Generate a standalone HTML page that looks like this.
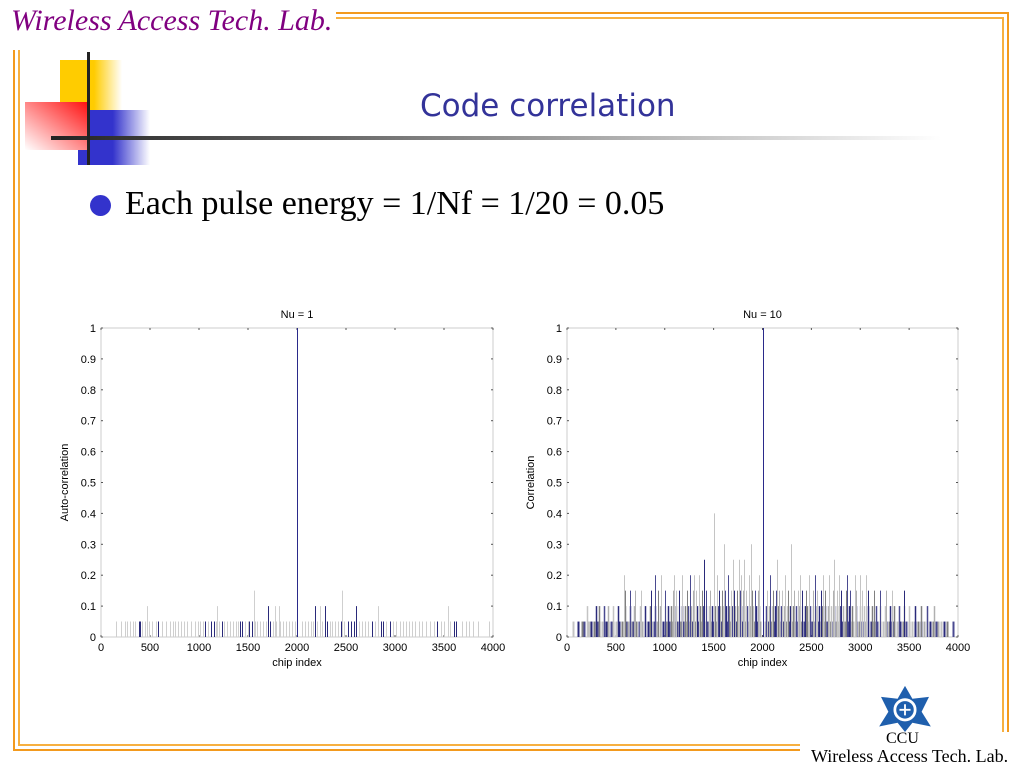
<!DOCTYPE html>
<html><head><meta charset="utf-8"><style>
body{margin:0;width:1024px;height:768px;background:#fff;position:relative;overflow:hidden;font-family:"Liberation Sans",sans-serif}
.a{position:absolute}
</style></head><body>
<div class="a" style="left:11px;top:4px;font:italic 30px 'Liberation Serif',serif;color:#800080;white-space:nowrap">Wireless Access Tech. Lab.</div>
<svg class="a" style="left:0;top:0" width="1024" height="768">
<defs>
<linearGradient id="gy" x1="0" x2="1"><stop offset="0.55" stop-color="#ffcc00"/><stop offset="1" stop-color="#fff"/></linearGradient>
<linearGradient id="gr" x1="1" x2="0" y1="0" y2="1"><stop offset="0" stop-color="#ff1010"/><stop offset="1" stop-color="#fff"/></linearGradient>
<linearGradient id="gb" x1="0" x2="1"><stop offset="0.4" stop-color="#3333cc"/><stop offset="1" stop-color="#fff"/></linearGradient>
<linearGradient id="gl" x1="0" x2="1"><stop offset="0" stop-color="#222"/><stop offset="1" stop-color="#fff"/></linearGradient>
</defs>
<g stroke="#f39a1e" stroke-width="2" fill="none">
<path d="M336 13H1008V732"/><path d="M336 18H1003V732" stroke="#f7b040"/>
<path d="M14 50V750H800"/><path d="M19 50V745H800" stroke="#f7b040"/>
</g>
<rect x="60" y="60" width="62" height="50" fill="url(#gy)"/>
<rect x="25" y="102" width="63" height="48" fill="url(#gr)"/>
<rect x="78" y="150" width="12" height="15" fill="#3333cc"/>
<rect x="88" y="110" width="62" height="55" fill="url(#gb)"/>
<rect x="51" y="136" width="890" height="4" fill="url(#gl)"/>
<rect x="87" y="52" width="3" height="113" fill="#222"/>
</svg>
<div class="a" style="left:420px;top:88px;font-size:31px;color:#333399;white-space:nowrap;font-family:'DejaVu Sans',sans-serif">Code correlation</div>
<div class="a" style="left:90px;top:195px;width:21px;height:21px;border-radius:50%;background:#3333cc"></div>
<div class="a" style="left:125px;top:185px;font:34px 'Liberation Serif',serif;white-space:nowrap">Each pulse energy = 1/Nf = 1/20 = 0.05</div>
<svg id="ch" class="a" style="left:0;top:0" width="1024" height="768" font-family="Liberation Sans, sans-serif" font-size="11"></svg>
<svg class="a" style="left:873px;top:684px" width="64" height="48" viewBox="0 0 64 52">
<path d="M32 2L40 16L58 14L50 30L60 46L40 42L32 52L24 42L4 46L14 30L6 14L24 16Z" fill="#1f5fad"/>
<circle cx="32" cy="28" r="11" fill="none" stroke="#fff" stroke-width="3"/>
<path d="M26 28H38M32 22V34" stroke="#fff" stroke-width="2"/>
</svg>
<div class="a" style="left:886px;top:730px;font:16px 'Liberation Serif',serif">CCU</div>
<div class="a" style="left:811px;top:746px;font:18px 'Liberation Serif',serif;white-space:nowrap">Wireless Access Tech. Lab.</div>
<script>
const xTicks=[0,500,1000,1500,2000,2500,3000,3500,4000];
const yTicks=[0,0.1,0.2,0.3,0.4,0.5,0.6,0.7,0.8,0.9,1];
const yTickLabels=["0","0.1","0.2","0.3","0.4","0.5","0.6","0.7","0.8","0.9","1"];
const l05=[150,200,240,270,300,330,350,385,400,420,450,490,520,560,580,620,660,700,730,760,790,820,850,880,920,960,990,1010,1040,1060,1090,1120,1150,1170,1200,1230,1260,1290,1320,1350,1380,1400,1420,1440,1470,1500,1510,1540,1570,1590,1620,1650,1680,1720,1750,1790,1830,1860,1890,1920,1950,1980,2050,2080,2110,2140,2160,2180,2200,2230,2260,2290,2310,2340,2360,2390,2420,2450,2480,2520,2550,2580,2600,2630,2660,2690,2720,2770,2800,2830,2860,2880,2910,2950,2980,3010,3050,3080,3110,3140,3170,3200,3240,3280,3320,3360,3400,3430,3470,3500,3560,3600,3620,3680,3720,3760,3800,3850,3960];
const lDark=[385,400,580,1060,1120,1150,1230,1420,1440,1510,1540,1720,2180,2310,2450,2520,2550,2580,2600,2770,2860,2880,2950,3430,3600,3620,1700,2290];
const l10=[470,1180,1700,1780,1820,2180,2230,2290,2600,2830,3540];
const l15=[1560,2460];
const lPeak=[2000];
const r05=[60,110,150,170,210,230,250,280,310,330,360,400,420,450,470,500,530,560,600,620,650,680,710,740,770,800,830,860,890,920,950,980,1010,1040,1070,1100,1130,1160,1190,1220,1250,1280,1310,1340,1370,1400,1430,1460,1490,1520,1550,1580,1610,1640,1670,1700,1730,1760,1790,1820,1850,1880,1910,1940,1970,2030,2060,2090,2120,2150,2180,2210,2240,2270,2300,2330,2360,2390,2420,2450,2480,2510,2540,2570,2600,2630,2660,2690,2720,2750,2780,2810,2840,2870,2900,2930,2960,2990,3020,3050,3080,3110,3140,3170,3200,3230,3260,3290,3320,3350,3380,3410,3440,3470,3500,3530,3560,3590,3620,3650,3680,3710,3740,3770,3800,3830,3860,3890,3950];
const r10=[200,300,330,380,420,470,520,590,640,690,750,800,850,900,950,1000,1030,1060,1090,1120,1150,1180,1210,1240,1270,1300,1330,1360,1390,1420,1450,1480,1510,1540,1570,1600,1630,1660,1690,1720,1750,1780,1810,1840,1870,1900,1930,1960,2040,2070,2100,2130,2160,2190,2220,2250,2280,2310,2340,2370,2400,2430,2460,2490,2520,2550,2580,2610,2640,2670,2700,2730,2760,2790,2820,2850,2880,2920,2960,3000,3040,3080,3120,3160,3200,3250,3300,3350,3400,3450,3500,3560,3620,3680,3750];
const r15=[590,640,700,760,860,930,1000,1080,1120,1150,1230,1260,1290,1320,1350,1380,1420,1460,1530,1560,1590,1620,1650,1680,1710,1740,1770,1800,1830,1860,1890,1920,1950,2050,2080,2110,2140,2170,2200,2230,2260,2290,2320,2360,2400,2440,2480,2520,2560,2600,2640,2680,2720,2760,2800,2850,2900,2960,3020,3080,3140,3200,3260,3320,3450];
const r20=[580,900,960,1090,1180,1260,1300,1350,1530,1650,1780,1860,1960,2080,2230,2380,2480,2540,2620,2680,2780,2860,2950,3000,3060];
const r25=[1400,1700,1760,1810,2000,2150,2730];
const r30=[1610,1880,2290];
const r40=[1500];
const rPeak=[2000];

const NS="http://www.w3.org/2000/svg",svg=document.getElementById('ch');
function mk(t,a,p){const e=document.createElementNS(NS,t);for(const k in a)e.setAttribute(k,a[k]);(p||svg).appendChild(e);return e;}
function plot(x0,x1,y0,y1,title,ylab,name){
  const g=mk('g',{});
  
  
  const X=v=>x0+v/4000*(x1-x0), Y=v=>y0-v*(y0-y1);
  mk('rect',{x:x0,y:y1,width:x1-x0,height:y0-y1,fill:'none',stroke:'#ccc','stroke-width':1},g);
  xTicks.forEach(v=>{const x=X(v);
    mk('line',{x1:x,x2:x,y1:y0,y2:y0-2,stroke:'#555'},g);mk('line',{x1:x,x2:x,y1:y1,y2:y1+2,stroke:'#555'},g);
    const t=mk('text',{x:x,y:y0+14,'text-anchor':'middle'},g);t.textContent=v;
    
    });
  yTicks.forEach((v,i)=>{const y=Y(v);
    mk('line',{x1:x0,x2:x0+2,y1:y,y2:y,stroke:'#555'},g);mk('line',{x1:x1,x2:x1-2,y1:y,y2:y,stroke:'#555'},g);
    const t=mk('text',{x:x0-5,y:y+4,'text-anchor':'end'},g);t.textContent=yTickLabels[i];
    
    });
  const t1=mk('text',{x:(x0+x1)/2,y:y1-10,'text-anchor':'middle'},g);t1.textContent=title;
  
  
  const t2=mk('text',{x:(x0+x1)/2,y:y0+29,'text-anchor':'middle'},g);t2.textContent='chip index';
  
  
  const cy=(y0+y1)/2,cx=x0-33;
  const t3=mk('text',{x:cx,y:cy,'text-anchor':'middle',transform:`rotate(-90 ${cx} ${cy})`},g);t3.textContent=ylab;
  
  
  return {g,X,Y};
}
function stems(P,arr,val,colorFn,w){
  arr.forEach((v,i)=>{const x=Math.round(P.X(v))+0.5;
    const l=mk('line',{x1:x,x2:x,y1:P.Y(0),y2:P.Y(val),stroke:colorFn(v,i),'stroke-width':w||1},P.g);
    
    });
}
const L=plot(101,493,637,328,'Nu = 1','Auto-correlation','left-plot');
const lc=v=>lDark.includes(v)?'#2a2a7a':'#cfcfcf';
stems(L,l05,0.05,lc);stems(L,l10,0.1,lc);stems(L,l15,0.15,lc);stems(L,lPeak,1,()=>'#2a2a8a');
const R=plot(567,958,637,328,'Nu = 10','Correlation','right-plot');
const pal=['#c4c4c4','#2a2a7a','#808080','#4a4a90','#b0b0b0'];
const rc=(v,i)=>pal[i%5];
stems(R,r05,0.05,rc,2);stems(R,r10,0.1,rc,1.5);stems(R,r15,0.15,(v,i)=>pal[(i+2)%5]);
stems(R,r20,0.2,(v,i)=>i%4==1?'#4a4a90':'#c4c4c4');stems(R,r25,0.25,(v,i)=>i==0||i==4?'#2a2a7a':'#c4c4c4');
stems(R,r30,0.3,()=>'#c4c4c4');stems(R,r40,0.4,()=>'#c4c4c4');stems(R,rPeak,1,()=>'#2a2a8a');
</script>
</body></html>
